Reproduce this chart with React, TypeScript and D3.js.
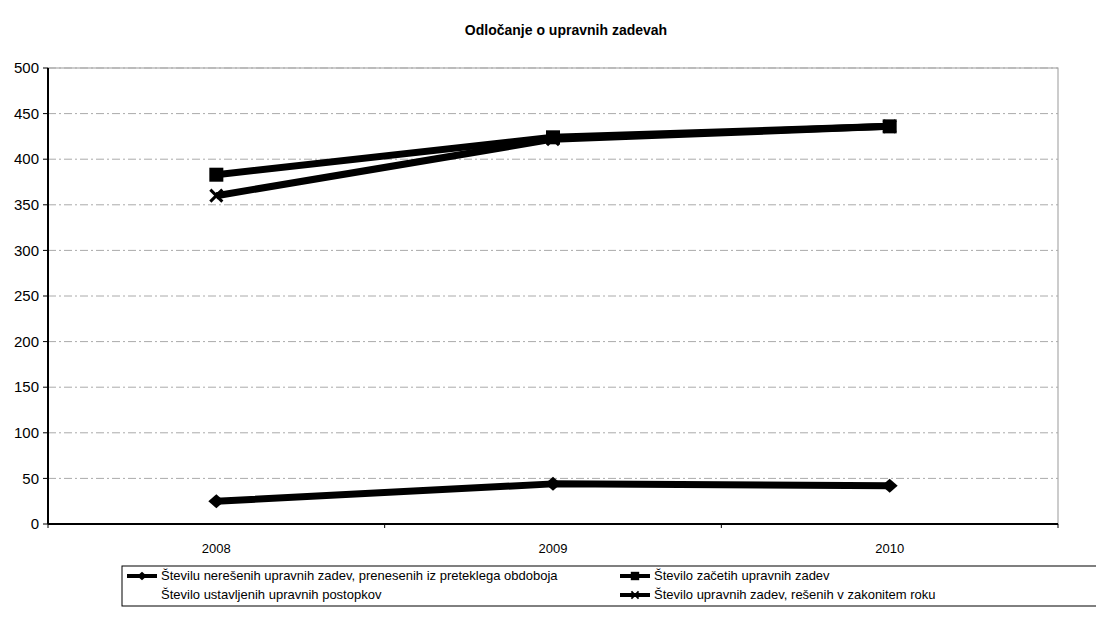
import React from 'react'
import * as d3 from 'd3'

const title = 'Odločanje o upravnih zadevah'
const years = ['2008', '2009', '2010']
const yTicks = [0, 50, 100, 150, 200, 250, 300, 350, 400, 450, 500]

// values
const neresene = [25, 44, 42]
const zacete = [383, 424, 436]
const ustavljeni: number[] = []
const resene = [360, 422, 436]

const legendNames = [
  'Številu nerešenih upravnih zadev, prenesenih iz preteklega obdoboja',
  'Število začetih upravnih zadev',
  'Število ustavljenih upravnih postopkov',
  'Število upravnih zadev, rešenih v zakonitem roku',
]

const W = 1096, H = 626
const margin = { top: 68, right: 38, bottom: 102, left: 48 }
const font = "'Liberation Sans', Arial, sans-serif"

function Marker({ kind, x, y, s = 1 }: { kind: string; x: number; y: number; s?: number }) {
  if (kind === 'square') return <rect x={x - 7 * s} y={y - 7 * s} width={14 * s} height={14 * s} fill="#000" />
  if (kind === 'diamond') {
    return <path d={`M${-8 * s},0L0,${-7 * s}L${8 * s},0L0,${7 * s}Z`} transform={`translate(${x},${y})`} fill="#000" />
  }
  if (kind === 'x') {
    return (
      <g transform={`translate(${x},${y})`} stroke="#000" strokeWidth={3 * s}>
        <line x1={-6 * s} y1={-6 * s} x2={6 * s} y2={6 * s} />
        <line x1={-6 * s} y1={6 * s} x2={6 * s} y2={-6 * s} />
      </g>
    )
  }
  return null
}

export default function App() {
  const x = d3.scaleBand().domain(years).range([margin.left, W - margin.right])
  const y = d3.scaleLinear().domain([0, 500]).range([H - margin.bottom, margin.top])
  const cx = (d: string) => (x(d) || 0) + x.bandwidth() / 2

  const line = d3.line<number>()
    .x((_, i) => cx(years[i]))
    .y(d => y(d))

  const series = [
    { name: legendNames[0], values: neresene, marker: 'diamond', color: '#000' },
    { name: legendNames[1], values: zacete, marker: 'square', color: '#000' },
    { name: legendNames[2], values: ustavljeni, marker: 'none', color: 'none' },
    { name: legendNames[3], values: resene, marker: 'x', color: '#000' },
  ]

  const plotL = margin.left, plotR = W - margin.right
  const plotT = margin.top, plotB = H - margin.bottom

  // legend layout: two columns, two rows
  const legX = 122, legY = 566
  const legPos = [
    { x: 127, y: 580 },
    { x: 620, y: 580 },
    { x: 127, y: 599 },
    { x: 620, y: 599 },
  ]

  return (
    <svg width={W} height={H} style={{ position: 'absolute', left: 0, top: 0, background: '#fff' }} fontFamily={font}>
      <text x={566} y={35} textAnchor="middle" fontSize={14} fontWeight="bold">{title}</text>

      {/* plot frame */}
      <rect x={plotL} y={plotT} width={plotR - plotL} height={plotB - plotT} fill="none" stroke="#999" strokeWidth={1} />

      {/* grid */}
      {yTicks.filter(t => t > 0).map(t => (
        <line key={t} x1={plotL} x2={plotR} y1={y(t)} y2={y(t)} stroke="#aaa" strokeWidth={1} strokeDasharray="8,3,2,3" />
      ))}

      {/* axes */}
      <line x1={plotL} x2={plotL} y1={plotT} y2={plotB} stroke="#000" strokeWidth={2} />
      <line x1={plotL} x2={plotR} y1={plotB} y2={plotB} stroke="#000" strokeWidth={2} />
      {yTicks.map(t => (
        <g key={t}>
          <line x1={plotL - 5} x2={plotL} y1={y(t)} y2={y(t)} stroke="#000" />
          <text x={plotL - 9} y={y(t)} dy="0.35em" textAnchor="end" fontSize={15}>{t}</text>
        </g>
      ))}
      {years.map(d => (
        <g key={d}>
          <line x1={x(d) || 0} x2={x(d) || 0} y1={plotB} y2={plotB + 4} stroke="#000" />
          <text x={cx(d)} y={plotB + 29} textAnchor="middle" fontSize={13}>{d}</text>
        </g>
      ))}
      <line x1={plotR} x2={plotR} y1={plotB} y2={plotB + 4} stroke="#000" />

      {/* series */}
      {series.map(s => s.values.length > 0 && (
        <g key={s.name}>
          <path d={line(s.values) || ''} fill="none" stroke={s.color} strokeWidth={7} strokeLinejoin="round" />
          {s.values.map((v, i) => <Marker key={i} kind={s.marker} x={cx(years[i])} y={y(v)} />)}
        </g>
      ))}

      {/* legend */}
      <rect x={legX} y={legY} width={W - legX + 10} height={40} fill="none" stroke="#000" strokeWidth={1} />
      {series.map((s, i) => {
        const p = legPos[i]
        return (
          <g key={s.name}>
            {s.color !== 'none' && (
              <>
                <line x1={p.x} x2={p.x + 30} y1={p.y - 4} y2={p.y - 4} stroke="#000" strokeWidth={4} />
                <Marker kind={s.marker} x={p.x + 15} y={p.y - 4} s={0.6} />
              </>
            )}
            <text x={p.x + 34} y={p.y} fontSize={13}>{s.name}</text>
          </g>
        )
      })}
    </svg>
  )
}
